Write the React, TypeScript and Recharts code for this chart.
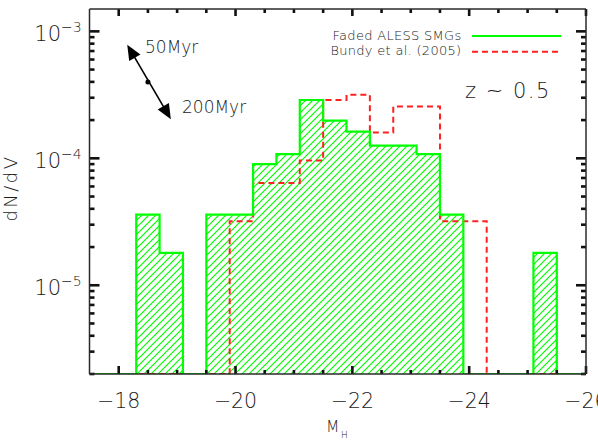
import React from "react";
import {
  ComposedChart,
  Area,
  Line,
  XAxis,
  YAxis,
  ReferenceLine,
  ReferenceDot,
} from "recharts";

// Bin edges in M_H (left to right on the plot)
const binEdges = [
  -17.5, -17.9, -18.3, -18.7, -19.1, -19.5, -19.9, -20.3, -20.7, -21.1, -21.5,
  -21.9, -22.3, -22.7, -23.1, -23.5, -23.9, -24.3, -24.7, -25.1, -25.5, -25.9,
  -26.0,
];
// dN/dV per bin (0 = empty bin)
const fadedAless = [
  0, 0, 3.6e-5, 1.8e-5, 0, 3.6e-5, 3.6e-5, 9.0e-5, 1.08e-4, 2.88e-4, 1.98e-4,
  1.62e-4, 1.26e-4, 1.26e-4, 1.08e-4, 3.6e-5, 0, 0, 0, 1.8e-5, 0, 0,
];
const bundy2005 = [
  0, 0, 0, 0, 0, 0, 3.2e-5, 6.4e-5, 6.4e-5, 9.6e-5, 2.88e-4, 3.16e-4, 1.6e-4,
  2.56e-4, 2.56e-4, 3.2e-5, 3.2e-5, 0, 0, 0, 0, 0,
];

const xMajorTicks = [-18, -20, -22, -24, -26];
const xAllTicks = [
  -18, -18.5, -19, -19.5, -20, -20.5, -21, -21.5, -22, -22.5, -23,
  -23.5, -24, -24.5, -25, -25.5, -26,
];
const yMajorTicks = [1e-5, 1e-4, 1e-3];
const yAllTicks = [
  2e-6, 3e-6, 4e-6, 5e-6, 6e-6, 7e-6, 8e-6, 9e-6, 1e-5, 2e-5, 3e-5, 4e-5, 5e-5,
  6e-5, 7e-5, 8e-5, 9e-5, 1e-4, 2e-4, 3e-4, 4e-4, 5e-4, 6e-4, 7e-4, 8e-4,
  9e-4, 1e-3,
];

const Y_MIN = 2e-6;
const Y_MAX = 1.5e-3;

// age-fading arrow (data coordinates)
const arrowStart = { x: -18.146, y: 7.83e-4 };
const arrowEnd = { x: -18.893, y: 2.03e-4 };
const arrowDot = { x: -18.5, y: 4.0e-4 };

const clamp = (v: number) => (v > Y_MIN ? v : Y_MIN);

const data = binEdges.map((m, i) => {
  const k = Math.min(i, fadedAless.length - 1);
  return { m, green: clamp(fadedAless[k]), red: clamp(bundy2005[k]) };
});

const FONT = "'DejaVu Sans', 'Liberation Sans', sans-serif";
const FW = 200;
const TXT = "#1a1a1a";
const AX = "#2a2a2a";
const TICK = "#111111";
const GREEN = "#00ff00";
const RED = "#ff2020";
const TW = 2.6; // tick thickness

const isMajorX = (v: number) => xMajorTicks.some((t) => Math.abs(t - v) < 1e-9);
const isMajorY = (v: number) =>
  yMajorTicks.some((t) => Math.abs(t - v) / t < 1e-6);

const BottomLabel = (props: any) => {
  const { x, y, payload } = props;
  return (
    <text x={x} y={y + 34} textAnchor="middle" fontFamily={FONT} fontWeight={FW}
      fontSize={20.5} fill={TXT} stroke="none">
      {"\u2212" + Math.abs(payload.value)}
    </text>
  );
};

const LeftLabel = (props: any) => {
  const { x, y, payload } = props;
  const exp = Math.round(Math.log10(payload.value));
  return (
    <g fontFamily={FONT} fontWeight={FW} fill={TXT} stroke="none">
      <text x={x - 28.5} y={y + 9.5} textAnchor="end" fontSize={21}>10</text>
      <text x={x - 28.5} y={y + 0.5} textAnchor="start" fontSize={14}>
        {"\u2212" + Math.abs(exp)}
      </text>
    </g>
  );
};

// tick marks: short stubs at both ends of a reference line
const makeHStub = (len: number) => (props: any) => {
  const { x1, y1, x2 } = props;
  const a = Math.min(Number(x1), Number(x2));
  const b = Math.max(Number(x1), Number(x2));
  const yy = Number(y1);
  return (
    <g>
      <rect x={a} y={yy - TW / 2} width={len} height={TW} fill={TICK} />
      <rect x={b - len} y={yy - TW / 2} width={len} height={TW} fill={TICK} />
    </g>
  );
};
const makeVStub = (topLen: number, botLen: number) => (props: any) => {
  const { x1, y1, y2 } = props;
  const a = Math.min(Number(y1), Number(y2));
  const b = Math.max(Number(y1), Number(y2));
  const xx = Number(x1);
  return (
    <g>
      <rect x={xx - TW / 2} y={a} width={TW} height={topLen} fill={TICK} />
      <rect x={xx - TW / 2} y={b - botLen} width={TW} height={botLen} fill={TICK} />
    </g>
  );
};
const HMajor = makeHStub(10);
const HMinor = makeHStub(5);
const VMajor = makeVStub(7, 8);
const VMinor = makeVStub(4, 4);

const ArrowShape = (props: any) => {
  const { x1, y1, x2, y2 } = props;
  if ([x1, y1, x2, y2].some((v) => typeof v !== "number" || isNaN(v))) return <g />;
  const dx = x2 - x1;
  const dy = y2 - y1;
  const len = Math.sqrt(dx * dx + dy * dy);
  const ux = dx / len;
  const uy = dy / len;
  const px = -uy;
  const py = ux;
  const hl = 15;
  const hw = 6.5;
  const head = (tx: number, ty: number, dir: number) => {
    const bx = tx - dir * ux * hl;
    const by = ty - dir * uy * hl;
    return `${tx},${ty} ${bx + px * hw},${by + py * hw} ${bx - px * hw},${by - py * hw}`;
  };
  return (
    <g>
      <line x1={x1 + ux * 10} y1={y1 + uy * 10} x2={x2 - ux * 10} y2={y2 - uy * 10}
        stroke="#000" strokeWidth={1.6} />
      <polygon points={head(x1, y1, -1)} fill="#000" />
      <polygon points={head(x2, y2, 1)} fill="#000" />
    </g>
  );
};

export default function App() {
  return (
    <div style={{ position: "absolute", left: 0, top: 0, width: 598, height: 441 }}>
      <svg width={0} height={0} style={{ position: "absolute" }}>
        <defs>
          <pattern id="hatch" patternUnits="userSpaceOnUse" width={7} height={7}>
            <path d="M-1,8 L8,-1 M-2,2 L2,-2 M5,9 L9,5" stroke={GREEN} strokeWidth={1.2} />
          </pattern>
        </defs>
      </svg>
      <ComposedChart width={598} height={441} data={data}
        margin={{ top: 8, right: 11, bottom: 0, left: 0 }}>
        <XAxis xAxisId="b" dataKey="m" type="number" domain={[-26, -17.5]} reversed
          allowDataOverflow ticks={xMajorTicks} interval={0} height={67} tickSize={0}
          tickMargin={0} tickLine={false} axisLine={{ stroke: AX, strokeWidth: 1.5 }}
          tick={<BottomLabel />} />
        <XAxis xAxisId="t" dataKey="m" orientation="top" type="number" domain={[-26, -17.5]}
          reversed allowDataOverflow height={1} tickLine={false} tick={false}
          axisLine={{ stroke: AX, strokeWidth: 1.5 }} />
        <YAxis yAxisId="l" scale="log" type="number" domain={[Y_MIN, Y_MAX]} allowDataOverflow
          ticks={yMajorTicks} interval={0} width={89.5} tickSize={0} tickMargin={0}
          tickLine={false} axisLine={{ stroke: AX, strokeWidth: 1.5 }} tick={<LeftLabel />} />
        <YAxis yAxisId="r" orientation="right" scale="log" type="number" domain={[Y_MIN, Y_MAX]}
          allowDataOverflow width={1} tickLine={false} tick={false}
          axisLine={{ stroke: AX, strokeWidth: 1.5 }} />
        <Area xAxisId="b" yAxisId="l" dataKey="green" type="stepAfter" baseValue={Y_MIN}
          fill="url(#hatch)" fillOpacity={1} stroke="none" isAnimationActive={false}
          dot={false} activeDot={false} />
        <Line xAxisId="t" yAxisId="r" dataKey="green" stroke="none" dot={false}
          activeDot={false} isAnimationActive={false} />
        <Line xAxisId="b" yAxisId="l" dataKey="red" type="stepAfter" stroke={RED}
          strokeWidth={2} strokeDasharray="6 4" dot={false} activeDot={false}
          isAnimationActive={false} />
        <Line xAxisId="b" yAxisId="l" dataKey="green" type="stepAfter" stroke={GREEN}
          strokeWidth={2.2} dot={false} activeDot={false} isAnimationActive={false} />
        {yAllTicks.map((v) => (
          <ReferenceLine key={"y" + v} xAxisId="b" yAxisId="l" y={v} ifOverflow="visible"
            shape={isMajorY(v) ? HMajor : HMinor} />
        ))}
        {xAllTicks.map((v) => (
          <ReferenceLine key={"x" + v} xAxisId="b" yAxisId="l" x={v} ifOverflow="visible"
            shape={isMajorX(v) ? VMajor : VMinor} />
        ))}
        <ReferenceLine xAxisId="b" yAxisId="l" segment={[arrowStart, arrowEnd]}
          ifOverflow="visible" shape={ArrowShape} />
        <ReferenceDot xAxisId="b" yAxisId="l" x={arrowDot.x} y={arrowDot.y} r={2.5}
          fill="#000" stroke="none" ifOverflow="visible" />
      </ComposedChart>
      <svg width={598} height={441}
        style={{ position: "absolute", left: 0, top: 0, pointerEvents: "none" }}>
        <g fontFamily={FONT} fontWeight={FW} fill={TXT}>
          <text x={461.5} y={39.5} textAnchor="end" fontSize={13} letterSpacing={0.3}>
            Faded ALESS SMGs
          </text>
          <text x={461.5} y={55} textAnchor="end" fontSize={13} letterSpacing={0.3}>
            Bundy et al. (2005)
          </text>
          <text x={465} y={97.5} fontSize={21} letterSpacing={1.5}>z ~ 0.5</text>
          <text x={145} y={53} fontSize={17}>50Myr</text>
          <text x={182} y={113} fontSize={17}>200Myr</text>
          <text transform="translate(17,188) rotate(-90)" textAnchor="middle" fontSize={18}
            letterSpacing={2.5}>dN/dV</text>
          <text x={326} y={432} fontSize={15.5}>M</text>
          <text x={341} y={438} fontSize={9}>H</text>
        </g>
        <line x1={472} x2={561} y1={36} y2={36} stroke={GREEN} strokeWidth={2} />
        <line x1={472} x2={561} y1={51.7} y2={51.7} stroke={RED} strokeWidth={2}
          strokeDasharray="6 4" />
      </svg>
    </div>
  );
}
